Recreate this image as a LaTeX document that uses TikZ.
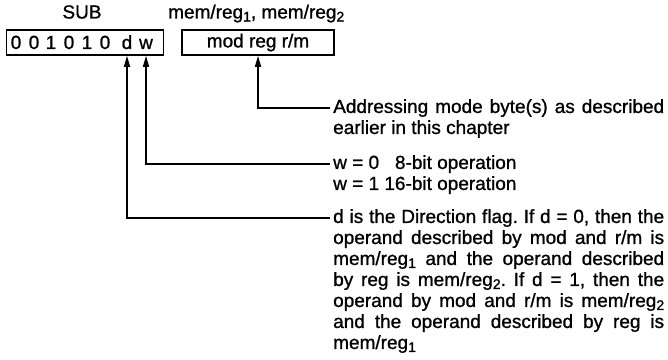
\documentclass[tikz,border=0pt]{standalone}
\usepackage{fontspec}
\setmainfont{Liberation Sans}[FakeBold=1]
\usetikzlibrary{arrows.meta,calc}
\newcommand{\lowidx}[1]{\raisebox{-0.3ex}{\fontsize{14}{14}\selectfont #1}}
\frenchspacing

\begin{document}
\begin{tikzpicture}[x=1pt,y=1pt,
  every node/.style={font=\fontsize{19}{21}\selectfont, inner sep=0pt},
  field/.style={draw, line width=1.6pt, minimum height=25pt},
  note/.style={anchor=north west, text width=331pt, align=justify},
  arr/.style={line width=1.6pt, -{Triangle[length=11pt,width=6pt]}}]

\useasboundingbox (0,0) rectangle (668,359);

% Заголовки
\node[anchor=base] (sub) at (82,340.5) {SUB};
\node[anchor=base west] (ops) at (168,340.5) {mem/reg\lowidx{1}, mem/reg\lowidx{2}};

% Поля команды
\node[field, minimum width=157pt] (opcode) at (85,316.5) {};
\foreach \x/\b in {16/0, 34/0, 51/1, 69/0, 87/1, 105/0, 127/d, 146/w}
  \node[anchor=base] (bit-\b) at (\x,310) {\b};
\node[field, minimum width=152pt] (modrm) at (258,316.5) {mod reg r/m};

% Пояснения
\node[note] (addrnote) at (333,260)
  {Addressing mode byte(s) as described\linebreak earlier in this chapter};
\node[anchor=north west, align=left] (wnote) at (333,204)
  {w = 0 \phantom{1}8-bit operation\\ w = 1 16-bit operation};
\node[note] (dnote) at (333,150)
  {d is the Direction flag. If d = 0, then the\linebreak
   operand described by mod and r/m is\linebreak
   mem/reg\lowidx{1} and the operand described\linebreak
   by reg is mem/reg\lowidx{2}. If d = 1, then the\linebreak
   operand by mod and r/m is mem/reg\lowidx{2}\linebreak
   and the operand described by reg is\linebreak
   mem/reg\lowidx{1}};

\coordinate (addrhook) at ($(addrnote.north west)+(-3,-9)$);
\coordinate (whook) at ($(wnote.north west)+(-3,-9)$);
\coordinate (dhook) at ($(dnote.north west)+(-3,-9)$);

% Стрелки
\draw[arr] (addrhook) -| (modrm.south);
\draw[arr] (whook) -| (bit-w |- opcode.south);
\draw[arr] (dhook) -| (bit-d |- opcode.south);

\end{tikzpicture}
\end{document}
